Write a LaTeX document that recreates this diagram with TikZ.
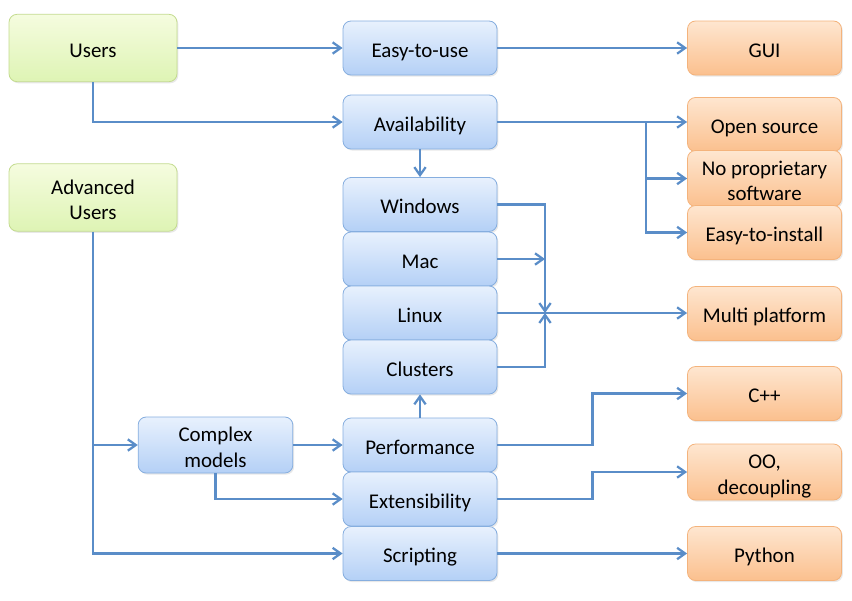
\documentclass[tikz,border=0pt]{standalone}
\usepackage{fontspec}
\setmainfont{Carlito}
\usetikzlibrary{arrows.meta,shadows}
\definecolor{lineblue}{HTML}{5A8DC8}
\definecolor{bluetop}{HTML}{E8F1FD}
\definecolor{bluebot}{HTML}{B4D0F6}
\definecolor{blueedge}{HTML}{86AEDF}
\definecolor{greentop}{HTML}{F5FCDF}
\definecolor{greenbot}{HTML}{DEF4B4}
\definecolor{greenedge}{HTML}{C3DB8E}
\definecolor{orangetop}{HTML}{FEE6D0}
\definecolor{orangebot}{HTML}{FBC08E}
\definecolor{orangeedge}{HTML}{F4B37C}
\newcommand{\topstrut}{\rule{0pt}{17.5pt}}
\newcommand{\botstrut}{\rule[-3.5pt]{0pt}{3.5pt}}
\tikzset{
  box/.style={rounded corners=6pt, line width=0.6pt, align=center,
    font=\fontsize{15.7}{19}\selectfont, inner sep=1pt,
    execute at begin node=\topstrut, execute at end node=\botstrut,
    drop shadow={opacity=0.18, shadow xshift=1pt, shadow yshift=-1.2pt}},
  bluebox/.style={box, draw=blueedge, top color=bluetop, bottom color=bluebot,
    minimum width=115.5pt, minimum height=40.5pt},
  greenbox/.style={box, draw=greenedge, top color=greentop, bottom color=greenbot,
    minimum width=126pt, minimum height=50.5pt},
  orangebox/.style={box, draw=orangeedge, top color=orangetop, bottom color=orangebot,
    minimum width=115.5pt, minimum height=40.5pt},
  arr/.style={draw=lineblue, line width=2.1pt, -{Straight Barb[length=6pt,width=8.5pt,line width=1.7pt]}},
  ln/.style={draw=lineblue, line width=2.1pt}
}
\begin{document}
\begin{tikzpicture}[x=0.75pt,y=-0.75pt]
\useasboundingbox (0,0) rectangle (852,600);
% left column
\node[greenbox] (users) at (93,48) {Users};
\node[greenbox] (adv) at (93,197.5) {\topstrut Advanced\\Users};
\node[bluebox, minimum width=116pt] (complex) at (215.5,445) {\topstrut Complex\\models};
% middle column
\node[bluebox] (easy) at (420,48) {Easy-to-use};
\node[bluebox] (avail) at (420,122) {Availability};
\node[bluebox] (win) at (420,204.5) {Windows};
\node[bluebox] (mac) at (420,259) {Mac};
\node[bluebox] (linux) at (420,313) {Linux};
\node[bluebox] (clus) at (420,367) {Clusters};
\node[bluebox] (perf) at (420,445) {Performance};
\node[bluebox] (ext) at (420,499) {Extensibility};
\node[bluebox] (script) at (420,553.5) {Scripting};
% right column
\node[orangebox] (gui) at (764.5,48) {GUI};
\node[orangebox] (open) at (764.5,124.5) {Open source};
\node[orangebox] (noprop) at (764.5,178.5) {\topstrut No proprietary\\software};
\node[orangebox] (inst) at (764.5,232.5) {Easy-to-install};
\node[orangebox] (multi) at (764.5,313.5) {Multi platform};
\node[orangebox] (cpp) at (764.5,393.5) {C++};
\node[orangebox] (oo) at (764.5,472) {\topstrut OO,\\decoupling};
\node[orangebox] (py) at (764.5,553.5) {Python};
% coordinates
\coordinate (br1) at (646,122);
\coordinate (m) at (545,313);
% connectors
\draw[arr] (users.east) -- (easy.west |- users.east);
\draw[arr] (easy.east) -- (gui.west |- easy.east);
\draw[arr] (users.south) |- (avail.west);
\draw[arr] (avail.south) -- (win.north);
\draw[ln] (avail.east) -- (br1);
\draw[arr] (br1) -- (br1 -| open.west);
\draw[arr] (br1) |- (noprop.west);
\draw[arr] (br1) |- (inst.west);
\draw[arr] (win.east) -| (m);
\draw[arr] (clus.east) -| (m);
\draw[arr] (mac.east) -- (mac.east -| m);
\draw[arr] (linux.east) -- (multi.west |- linux.east);
\draw[arr] (perf.north) -- (clus.south);
\draw[arr] (adv.south) |- (script.west);
\draw[arr] (adv.south |- complex.west) -- (complex.west);
\draw[arr] (complex.east) -- (perf.west);
\draw[arr] (complex.south) |- (ext.west);
\draw[arr] (perf.east) -- ++(95,0) |- (cpp.west);
\draw[arr] (ext.east) -- ++(95,0) |- (oo.west);
\draw[arr] (script.east) -- (py.west |- script.east);
\end{tikzpicture}
\end{document}
